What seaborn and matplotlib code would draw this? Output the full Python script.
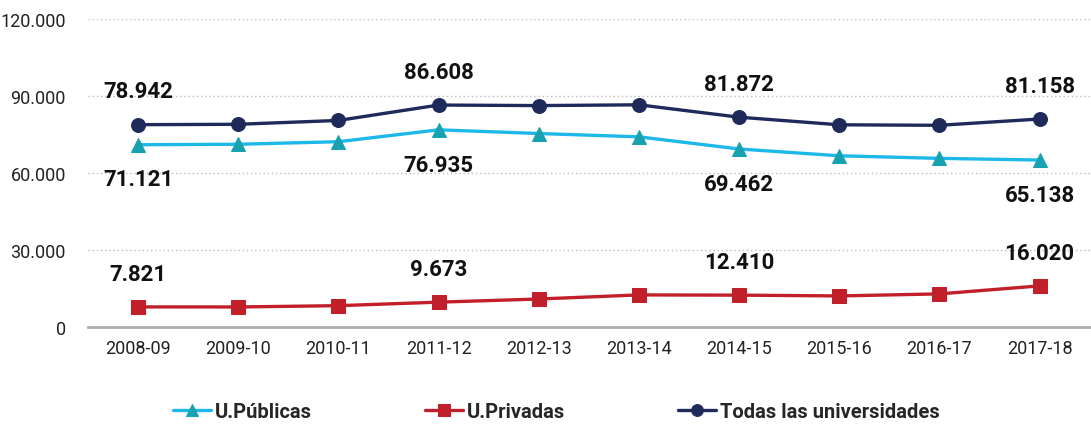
import matplotlib
matplotlib.use("Agg")
import matplotlib.pyplot as plt
import seaborn as sns
import pandas as pd
from matplotlib import font_manager

years = ["2008-09", "2009-10", "2010-11", "2011-12", "2012-13",
         "2013-14", "2014-15", "2015-16", "2016-17", "2017-18"]
publicas = [71121, 71300, 72300, 76935, 75500, 74200, 69462, 66800, 65800, 65138]
privadas = [7821, 7800, 8300, 9673, 10900, 12500, 12410, 12100, 12900, 16020]
todas = [78942, 79100, 80600, 86608, 86400, 86700, 81872, 78900, 78700, 81158]
labeled_idx = [0, 3, 6, 9]
yticks = [0, 30000, 60000, 90000, 120000]
ytick_labels = ["0", "30.000", "60.000", "90.000", "120.000"]

sns.set_theme(style="white")
names = {f.name for f in font_manager.fontManager.ttflist}
narrow = "Liberation Sans Narrow" if "Liberation Sans Narrow" in names else "Roboto"
plt.rcParams["font.family"] = [narrow, "DejaVu Sans"]

df = pd.DataFrame({"year": years, "pub": publicas, "priv": privadas, "all": todas})

fig = plt.figure(figsize=(10.91, 4.27), dpi=100)
ax = fig.add_axes([0.0807, 0.232, 0.918, 0.720])

c_pub_line = "#1DB8EA"
c_pub_mark = "#17A1B1"
c_priv = "#C1202A"
c_all = "#1E2A5A"

sns.lineplot(data=df, x="year", y="pub", ax=ax, sort=False, color=c_pub_line,
             linewidth=2.4, marker="^", markersize=10, markerfacecolor=c_pub_mark,
             markeredgecolor=c_pub_mark, label="U.Públicas")
sns.lineplot(data=df, x="year", y="priv", ax=ax, sort=False, color=c_priv,
             linewidth=2.4, marker="s", markersize=10, markerfacecolor=c_priv,
             markeredgecolor=c_priv, label="U.Privadas")
sns.lineplot(data=df, x="year", y="all", ax=ax, sort=False, color=c_all,
             linewidth=2.4, marker="o", markersize=10, markerfacecolor=c_all,
             markeredgecolor=c_all, label="Todas las universidades")

def fmt(v):
    return f"{v:,}".replace(",", ".")

for i in labeled_idx:
    ax.annotate(fmt(todas[i]), (i, todas[i]), xytext=(0, 24), textcoords="offset points",
                ha="center", va="center", fontsize=16, fontweight="bold", color="#111111")
    ax.annotate(fmt(publicas[i]), (i, publicas[i]), xytext=(0, -25), textcoords="offset points",
                ha="center", va="center", fontsize=16, fontweight="bold", color="#111111")
    ax.annotate(fmt(privadas[i]), (i, privadas[i]), xytext=(0, 24), textcoords="offset points",
                ha="center", va="center", fontsize=16, fontweight="bold", color="#111111")

ax.set_xlim(-0.5, len(years) - 0.5)
ax.set_ylim(0, 120000)
ax.set_yticks(yticks)
ax.set_yticklabels(ytick_labels)
ax.set_xlabel("")
ax.set_ylabel("")
ax.tick_params(axis="both", length=0, labelsize=13, colors="#222222")
ax.tick_params(axis="y", pad=16)
ax.tick_params(axis="x", pad=9)
for y in yticks[1:]:
    ax.axhline(y, color="#BBBBBB", linestyle=(0, (1, 2)), linewidth=1.0, zorder=0)
for s in ["top", "right", "left"]:
    ax.spines[s].set_visible(False)
ax.spines["bottom"].set_color("#A8ADAD")
ax.spines["bottom"].set_linewidth(2)

handles, labels = ax.get_legend_handles_labels()
ax.get_legend().remove()
fig.legend(handles, labels, loc="center", bbox_to_anchor=(0.51, 0.033), ncol=3,
           frameon=False, columnspacing=5.6, handlelength=1.9, handletextpad=0.2,
           markerscale=0.85, prop={"weight": "bold", "size": 14.5})

fig.savefig("out.png", dpi=100)
